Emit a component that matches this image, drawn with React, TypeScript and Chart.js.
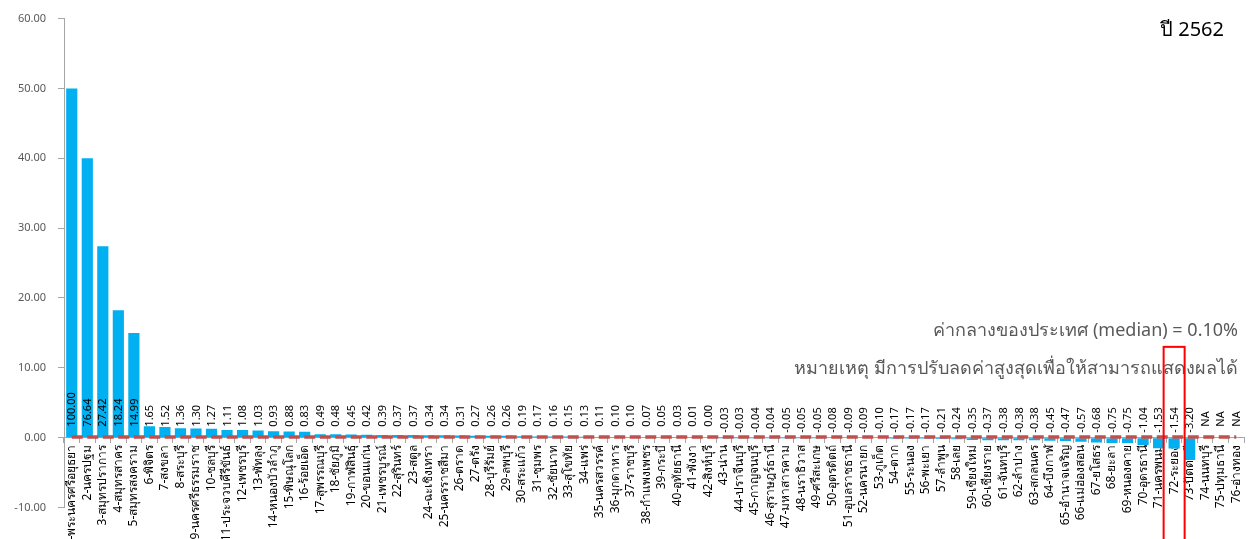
import React, { useEffect, useRef } from "react";
import { Chart, registerables } from "chart.js";

Chart.register(...registerables);

const provinces: string[] = [
  "1-พระนครศรีอยุธยา", "2-นครปฐม", "3-สมุทรปราการ", "4-สมุทรสาคร", "5-สมุทรสงคราม",
  "6-พิจิตร", "7-สงขลา", "8-สระบุรี", "9-นครศรีธรรมราช", "10-ชลบุรี",
  "11-ประจวบคีรีขันธ์", "12-เพชรบุรี", "13-พัทลุง", "14-หนองบัวลำภู", "15-พิษณุโลก",
  "16-ร้อยเอ็ด", "17-สุพรรณบุรี", "18-ชัยภูมิ", "19-กาฬสินธุ์", "20-ขอนแก่น",
  "21-เพชรบูรณ์", "22-สุรินทร์", "23-สตูล", "24-ฉะเชิงเทรา", "25-นครราชสีมา",
  "26-ตราด", "27-ตรัง", "28-บุรีรัมย์", "29-ลพบุรี", "30-สระแก้ว",
  "31-ชุมพร", "32-ชัยนาท", "33-สุโขทัย", "34-แพร่", "35-นครสวรรค์",
  "36-มุกดาหาร", "37-ราชบุรี", "38-กำแพงเพชร", "39-กระบี่", "40-อุทัยธานี",
  "41-พังงา", "42-สิงห์บุรี", "43-น่าน", "44-ปราจีนบุรี", "45-กาญจนบุรี",
  "46-สุราษฎร์ธานี", "47-มหาสารคาม", "48-นราธิวาส", "49-ศรีสะเกษ", "50-อุตรดิตถ์",
  "51-อุบลราชธานี", "52-นครนายก", "53-ภูเก็ต", "54-ตาก", "55-ระนอง",
  "56-พะเยา", "57-ลำพูน", "58-เลย", "59-เชียงใหม่", "60-เชียงราย",
  "61-จันทบุรี", "62-ลำปาง", "63-สกลนคร", "64-บึงกาฬ", "65-อำนาจเจริญ",
  "66-แม่ฮ่องสอน", "67-ยโสธร", "68-ยะลา", "69-หนองคาย", "70-อุดรธานี",
  "71-นครพนม", "72-ระยอง", "73-ปัตตานี", "74-นนทบุรี", "75-ปทุมธานี",
  "76-อ่างทอง",
];

// Reported values (shown as labels); null = NA
const reportedValues: (number | null)[] = [
  100.0, 76.64, 27.42, 18.24, 14.99,
  1.65, 1.52, 1.36, 1.3, 1.27,
  1.11, 1.08, 1.03, 0.93, 0.88,
  0.83, 0.49, 0.48, 0.45, 0.42,
  0.39, 0.37, 0.37, 0.34, 0.34,
  0.31, 0.27, 0.26, 0.26, 0.19,
  0.17, 0.16, 0.15, 0.13, 0.11,
  0.1, 0.1, 0.07, 0.05, 0.03,
  0.01, 0.0, -0.03, -0.03, -0.04,
  -0.04, -0.05, -0.05, -0.05, -0.08,
  -0.09, -0.09, -0.1, -0.17, -0.17,
  -0.17, -0.21, -0.24, -0.35, -0.37,
  -0.38, -0.38, -0.38, -0.45, -0.47,
  -0.57, -0.68, -0.75, -0.75, -1.04,
  -1.53, -1.54, -3.2, null, null,
  null,
];

// Plotted bar heights (the two largest values were reduced so they fit)
const plottedValues: (number | null)[] = [
  50, 40, 27.42, 18.24, 14.99,
  1.65, 1.52, 1.36, 1.3, 1.27,
  1.11, 1.08, 1.03, 0.93, 0.88,
  0.83, 0.49, 0.48, 0.45, 0.42,
  0.39, 0.37, 0.37, 0.34, 0.34,
  0.31, 0.27, 0.26, 0.26, 0.19,
  0.17, 0.16, 0.15, 0.13, 0.11,
  0.1, 0.1, 0.07, 0.05, 0.03,
  0.01, 0.0, -0.03, -0.03, -0.04,
  -0.04, -0.05, -0.05, -0.05, -0.08,
  -0.09, -0.09, -0.1, -0.17, -0.17,
  -0.17, -0.21, -0.24, -0.35, -0.37,
  -0.38, -0.38, -0.38, -0.45, -0.47,
  -0.57, -0.68, -0.75, -0.75, -1.04,
  -1.53, -1.54, -3.2, null, null,
  null,
];

const medianValue = 0.1;
const yMin = -10;
const yMax = 60;
const yStep = 10;
const highlightIndex = 71; // 72-ระยอง
const highlightTopValue = 13;

const titleText = "ปี 2562";
const medianNote = "ค่ากลางของประเทศ (median) = 0.10%";
const capNote = "หมายเหตุ มีการปรับลดค่าสูงสุดเพื่อให้สามารถแสดงผลได้";

const FONT = 'Tahoma, "Noto Sans", "DejaVu Sans", sans-serif';

const valueLabelPlugin = {
  id: "valueLabels",
  afterDatasetsDraw(chart: any) {
    const { ctx, scales } = chart;
    const xs = scales.x;
    const zeroY = scales.y.getPixelForValue(0);
    ctx.save();
    ctx.font = `11px ${FONT}`;
    ctx.fillStyle = "#000000";
    ctx.textBaseline = "middle";
    reportedValues.forEach((v, i) => {
      const x = xs.getPixelForValue(i);
      const text = v === null ? "NA" : v.toFixed(2);
      const neg = v !== null && v < 0;
      ctx.save();
      ctx.translate(x + 0.5, zeroY - (neg ? 5 : 11));
      ctx.rotate(-Math.PI / 2);
      ctx.textAlign = "left";
      ctx.fillText(text, 0, 0);
      ctx.restore();
    });
    ctx.restore();
  },
};

const annotationPlugin = {
  id: "annotations",
  afterDraw(chart: any) {
    const { ctx, scales, chartArea, height } = chart;
    ctx.save();
    ctx.textBaseline = "alphabetic";
    ctx.textAlign = "right";
    ctx.fillStyle = "#000000";
    ctx.font = `20px ${FONT}`;
    ctx.fillText(titleText, chartArea.right - 20, 36);
    ctx.fillStyle = "#595959";
    ctx.font = `18px ${FONT}`;
    ctx.fillText(medianNote, chartArea.right - 6, 336);
    ctx.fillText(capNote, chartArea.right - 6, 374);
    // highlight box
    const cx = scales.x.getPixelForValue(highlightIndex);
    const top = scales.y.getPixelForValue(highlightTopValue);
    ctx.strokeStyle = "#FF0000";
    ctx.lineWidth = 2;
    ctx.strokeRect(cx - 10.5, top, 21, height - top + 5);
    ctx.restore();
  },
};

export default function App() {
  const canvasRef = useRef<HTMLCanvasElement | null>(null);

  useEffect(() => {
    document.body.style.margin = "0";
    const canvas = canvasRef.current;
    if (!canvas) return;
    const chart = new Chart(canvas, {
      type: "bar",
      data: {
        labels: provinces,
        datasets: [
          {
            type: "line",
            label: "median",
            data: provinces.map(() => medianValue),
            borderColor: "#C0504D",
            borderWidth: 3.5,
            borderDash: [11, 4.5],
            pointRadius: 0,
            fill: false,
            order: 0,
          } as any,
          {
            type: "bar",
            label: "value",
            data: plottedValues,
            backgroundColor: "#00B0F0",
            categoryPercentage: 1,
            barPercentage: 0.72,
            order: 1,
          },
        ],
      },
      options: {
        animation: false,
        responsive: false,
        maintainAspectRatio: false,
        layout: { padding: { top: 14, right: 15, bottom: 31.5, left: 0 } },
        plugins: {
          legend: { display: false },
          tooltip: { enabled: false },
          title: { display: false },
        },
        scales: {
          x: {
            position: { y: 0 } as any,
            offset: true,
            grid: {
              drawOnChartArea: false,
              tickLength: 5,
              color: "#A6A6A6",
              offset: true,
            },
            border: { color: "#A6A6A6" },
            ticks: {
              autoSkip: false,
              minRotation: 90,
              maxRotation: 90,
              padding: 2,
              color: "#000000",
              font: { size: 12, family: FONT },
            },
          },
          y: {
            min: yMin,
            max: yMax,
            afterFit: (s: any) => {
              s.width = 64;
            },
            grid: { drawOnChartArea: false, tickLength: 6, color: "#A6A6A6" },
            border: { color: "#A6A6A6" },
            ticks: {
              stepSize: yStep,
              padding: 12,
              color: "#595959",
              font: { size: 11, family: FONT },
              callback: (v: any) => Number(v).toFixed(2),
            },
          },
        },
      },
      plugins: [valueLabelPlugin, annotationPlugin],
    });
    return () => chart.destroy();
  }, []);

  return (
    <div style={{ width: 1259, height: 539, overflow: "hidden", background: "#ffffff" }}>
      <canvas ref={canvasRef} width={1259} height={539} style={{ width: 1259, height: 539, display: "block" }} />
    </div>
  );
}
